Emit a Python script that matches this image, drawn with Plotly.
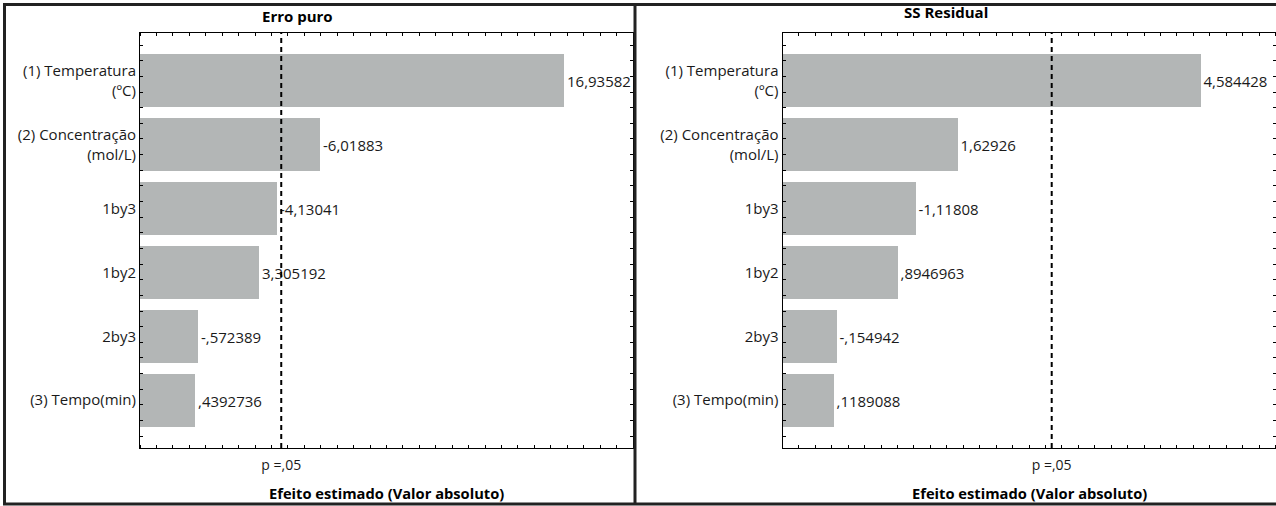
import plotly.graph_objects as go

# Fatores do planejamento (de cima para baixo)
fatores = [
    "(1) Temperatura<br>(ºC)",
    "(2) Concentração<br>(mol/L)",
    "1by3",
    "1by2",
    "2by3",
    "(3) Tempo(min)",
]

# Efeitos estimados padronizados (t) para cada estimativa de erro
efeitos_erro_puro = [16.93582, -6.01883, -4.13041, 3.305192, -0.572389, 0.4392736]
efeitos_ss_residual = [4.584428, 1.62926, -1.11808, 0.8946963, -0.154942, 0.1189088]

# Valores críticos de t para p = 0,05
t_critico_erro_puro = 4.302653
t_critico_ss_residual = 2.776445

# Faixas dos eixos horizontais
faixa_erro_puro = [-2.0, 20.0]
faixa_ss_residual = [-0.5, 5.5]

titulos = ["Erro puro", "SS Residual"]
rotulo_p = "p =,05"
titulo_eixo_x = "Efeito estimado (Valor absoluto)"

W, H = 1276, 506
FONTE = "Open Sans"
COR_BARRA = "#b3b6b6"
COR_TEXTO = "#1a1a1a"


def rotulo(v):
    s = repr(v)
    if s.startswith("0."):
        s = s[1:]
    elif s.startswith("-0."):
        s = "-" + s[2:]
    return s.replace(".", ",")


def px_x(p):
    return p / W


def px_y(p):
    return 1 - p / H


fig = go.Figure()

paineis = [
    dict(ef=efeitos_erro_puro, crit=t_critico_erro_puro, faixa=faixa_erro_puro,
         dom_x=[px_x(140), px_x(633)], ax="", titulo_x=297, titulo_y=16),
    dict(ef=efeitos_ss_residual, crit=t_critico_ss_residual, faixa=faixa_ss_residual,
         dom_x=[px_x(782.5), px_x(1275.5)], ax="2", titulo_x=946, titulo_y=12),
]

posicoes = list(range(len(fatores)))
dom_y = [px_y(448), px_y(33)]

for i, p in enumerate(paineis):
    xa = "x" + p["ax"]
    ya = "y" + p["ax"]
    base = p["faixa"][0]
    fig.add_trace(go.Bar(
        x=[abs(v) - base for v in p["ef"]],
        base=[base] * len(p["ef"]),
        y=posicoes,
        orientation="h",
        width=0.83,
        marker=dict(color=COR_BARRA, line=dict(width=0)),
        text=[rotulo(v) for v in p["ef"]],
        textposition="outside",
        constraintext="none",
        cliponaxis=False,
        textfont=dict(family=FONTE, size=15, color=COR_TEXTO),
        xaxis=xa, yaxis=ya,
        showlegend=False,
        hoverinfo="skip",
    ))

    span = p["faixa"][1] - p["faixa"][0]
    eixo_x = dict(
        domain=p["dom_x"],
        range=p["faixa"],
        anchor=ya,
        showgrid=False, zeroline=False,
        showline=True, linecolor="black", linewidth=1, mirror="allticks",
        tickmode="array", tickvals=[p["crit"]], ticktext=[rotulo_p],
        ticks="", ticklabelstandoff=4,
        tickfont=dict(family=FONTE, size=14, color=COR_TEXTO),
        minor=dict(ticks="inside", ticklen=3, tickcolor="black", tickwidth=1,
                   tick0=p["faixa"][0], dtick=span / 30, showgrid=False),
        fixedrange=True,
    )
    eixo_y = dict(
        domain=dom_y,
        range=[len(fatores) - 0.25, -0.75],
        anchor=xa,
        showgrid=False, zeroline=False,
        showline=True, linecolor="black", linewidth=1, mirror="allticks",
        tickmode="array", tickvals=posicoes, ticktext=fatores,
        ticks="", ticklabelstandoff=0,
        tickfont=dict(family=FONTE, size=15, color=COR_TEXTO),
        minor=dict(ticks="inside", ticklen=3, tickcolor="black", tickwidth=1,
                   tick0=-0.56, dtick=0.245, showgrid=False),
        fixedrange=True,
    )
    fig.layout["xaxis" + p["ax"]] = eixo_x
    fig.layout["yaxis" + p["ax"]] = eixo_y

    # Linha do valor crítico (p = 0,05)
    fig.add_shape(type="line", xref=xa, yref=ya + " domain",
                  x0=p["crit"], x1=p["crit"], y0=0, y1=1,
                  line=dict(color="black", width=2, dash="5px,4px"))

    # Título do painel
    fig.add_annotation(text="<b>" + titulos[i] + "</b>", xref="paper", yref="paper",
                       x=px_x(p["titulo_x"]), y=px_y(p["titulo_y"]),
                       xanchor="center", yanchor="middle", showarrow=False,
                       font=dict(family=FONTE, size=15, color="black"))

    # Título do eixo horizontal
    centro = (p["dom_x"][0] + p["dom_x"][1]) / 2
    fig.add_annotation(text="<b>" + titulo_eixo_x + "</b>", xref="paper", yref="paper",
                       x=centro, y=px_y(493),
                       xanchor="center", yanchor="middle", showarrow=False,
                       font=dict(family=FONTE, size=14.7, color="black"))

# Moldura dos painéis
moldura = dict(color="#222222", width=3)
fig.add_shape(type="line", xref="paper", yref="paper",
              x0=px_x(4.5), x1=px_x(4.5), y0=px_y(3), y1=px_y(505), line=moldura)
fig.add_shape(type="line", xref="paper", yref="paper",
              x0=px_x(3), x1=1, y0=px_y(4.5), y1=px_y(4.5), line=moldura)
fig.add_shape(type="line", xref="paper", yref="paper",
              x0=px_x(635), x1=px_x(635), y0=px_y(3), y1=px_y(505), line=moldura)
fig.add_shape(type="line", xref="paper", yref="paper",
              x0=px_x(3), x1=1, y0=px_y(504), y1=px_y(504), line=moldura)

fig.update_layout(
    width=W, height=H,
    margin=dict(l=0, r=0, t=0, b=0),
    paper_bgcolor="white", plot_bgcolor="white",
    bargap=0, showlegend=False,
    font=dict(family=FONTE, color=COR_TEXTO),
)

fig.write_html("out.html", config={"displayModeBar": False})
